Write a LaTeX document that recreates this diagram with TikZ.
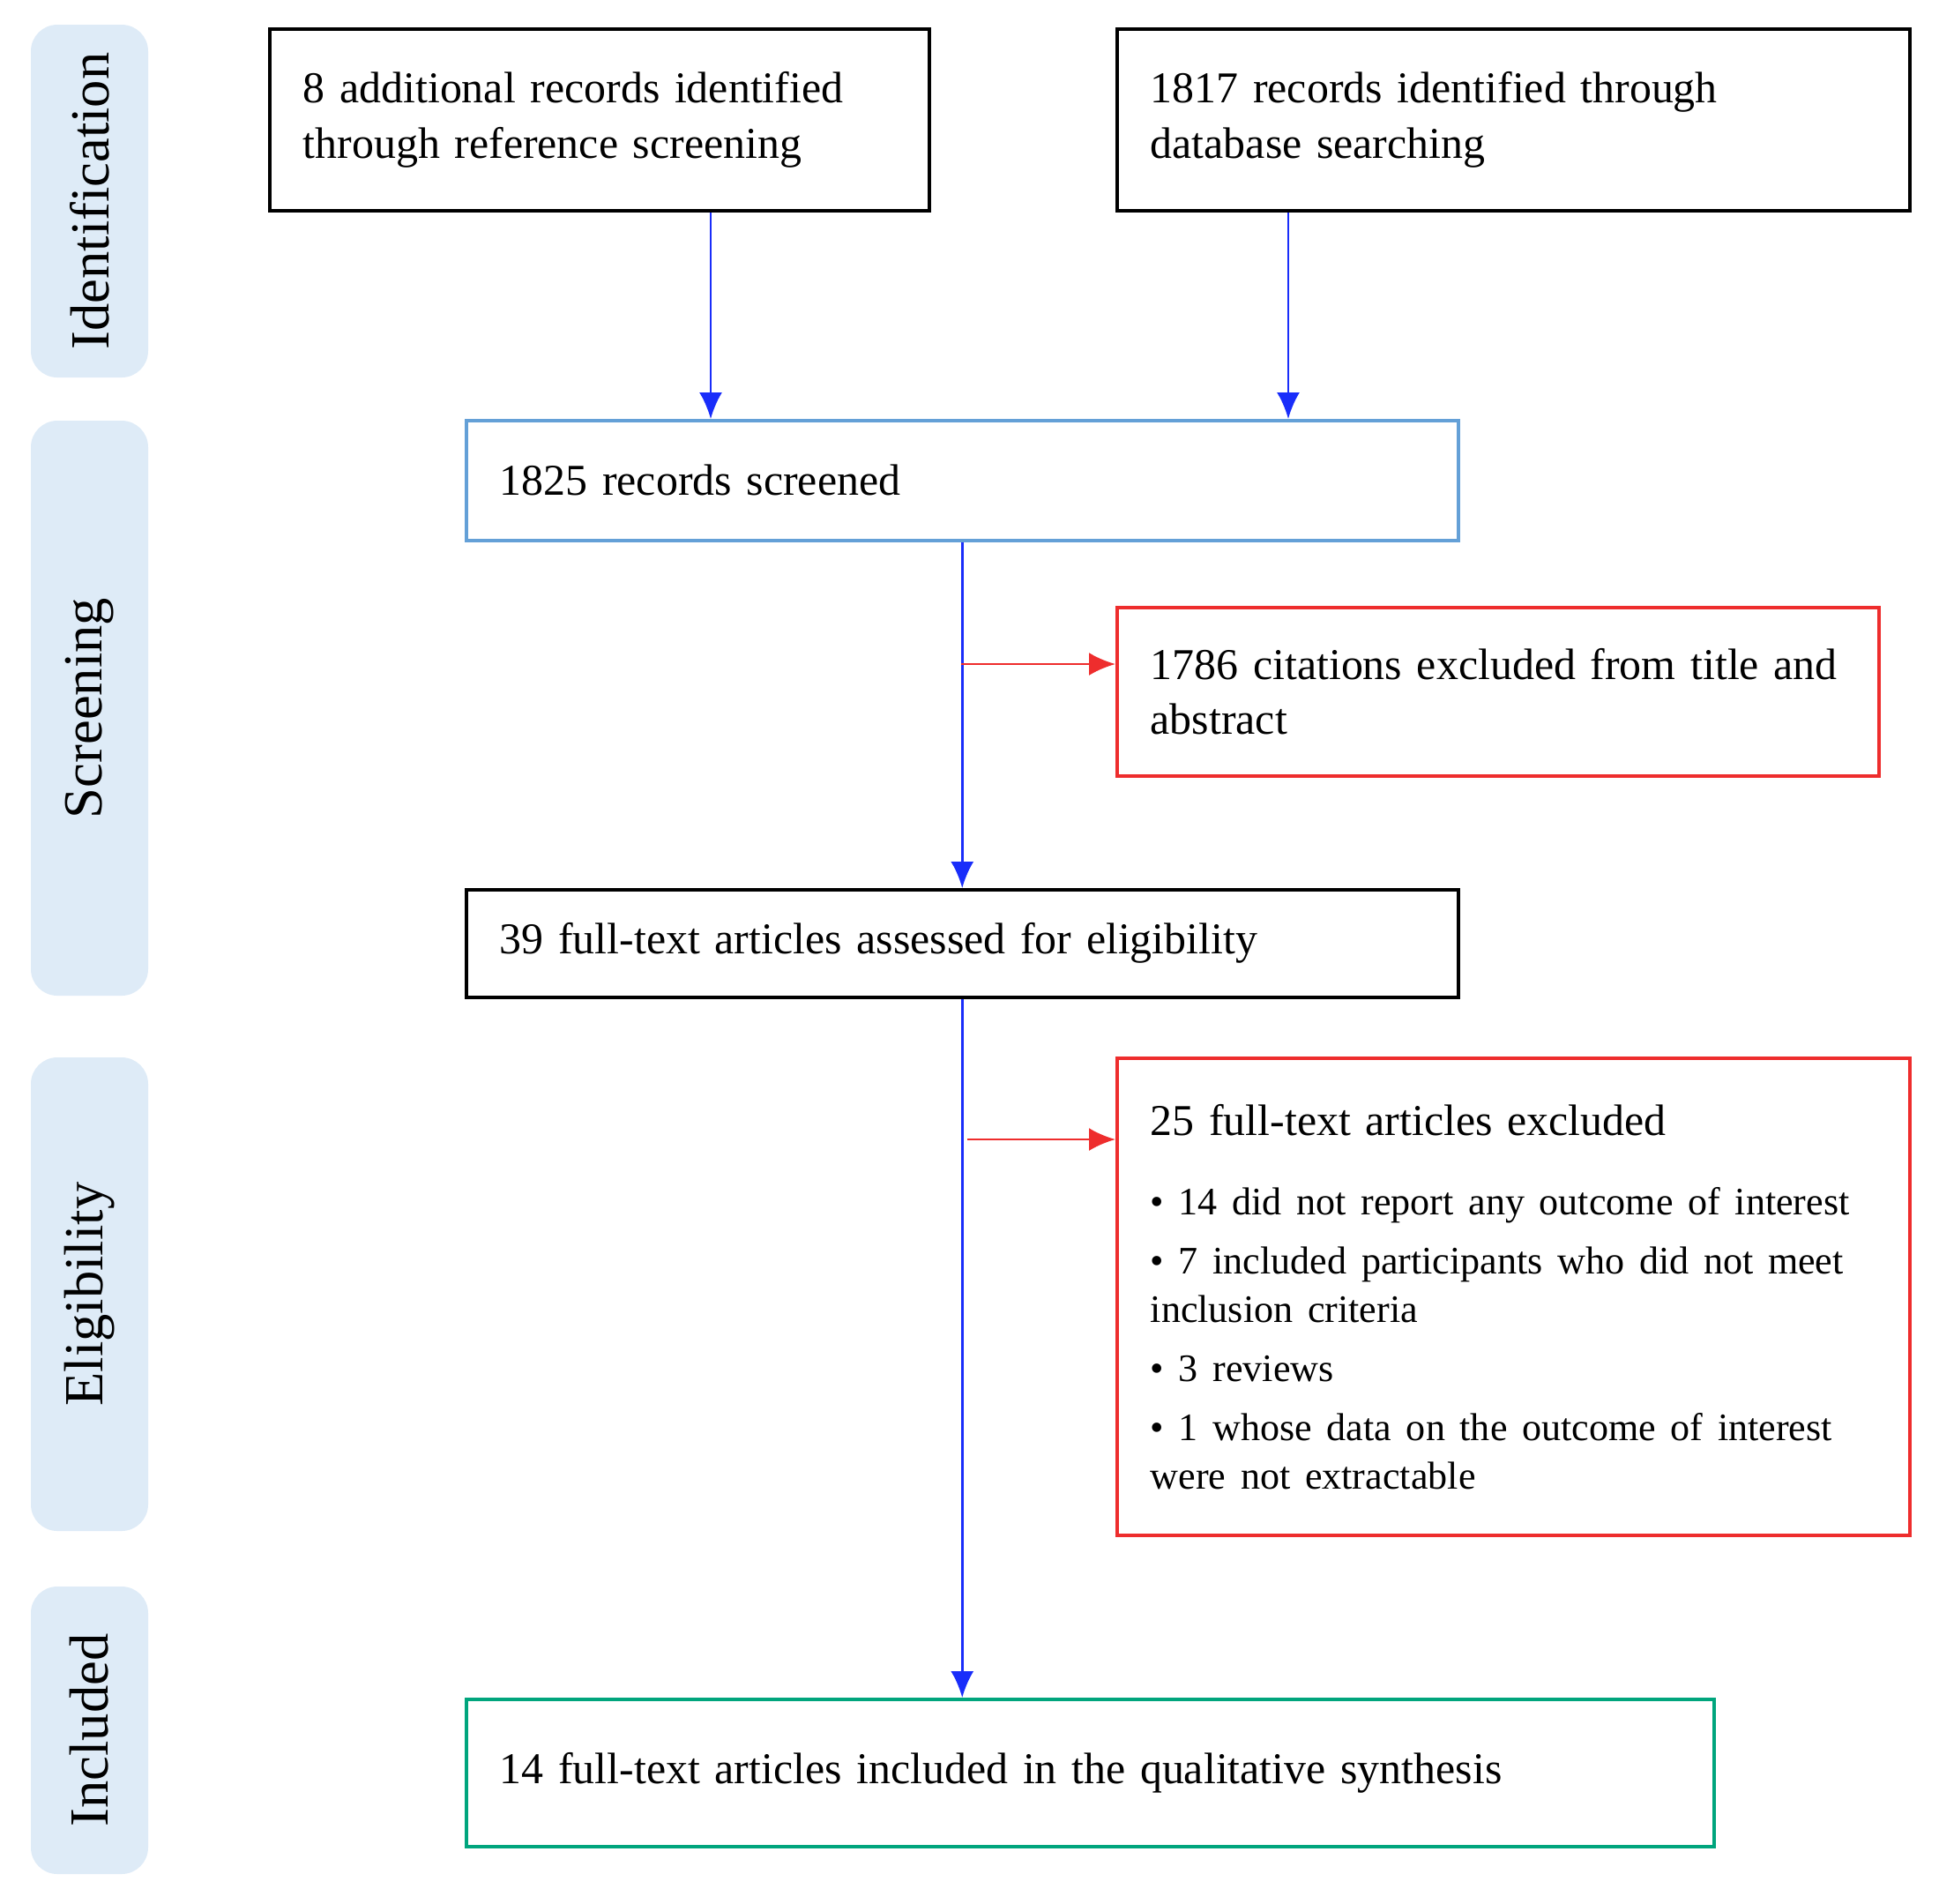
\documentclass[tikz,border=0pt]{standalone}
\usepackage{fontspec}
\setmainfont{Liberation Serif}
\usetikzlibrary{arrows.meta}

\definecolor{flowblue}{RGB}{25,45,250}
\definecolor{dropred}{RGB}{238,45,45}
\definecolor{screenblue}{RGB}{100,160,215}
\definecolor{keepgreen}{RGB}{0,165,125}
\definecolor{phasefill}{RGB}{222,235,247}

\tikzset{
  record/.style={draw, line width=1pt, anchor=north west, align=left,
    inner xsep=0.38cm, font=\fontsize{14.2}{17.8}\selectfont},
  phase/.style={fill=phasefill, rounded corners=0.3cm, rotate=90,
    minimum height=1.33cm, font=\fontsize{17.8}{20}\selectfont},
  flow/.style={draw=flowblue, line width=0.8pt, -{Latex[length=3mm,width=2.6mm]}},
  drop/.style={draw=dropred, line width=0.8pt, -{Latex[length=3mm,width=2.6mm]}}
}

\begin{document}
\begin{tikzpicture}
  \useasboundingbox (0,0) rectangle (21.99,-21.58);

  \node[phase, minimum width=4.00cm] (ident) at (1.015,-2.28) {Identification};
  \node[phase, minimum width=6.52cm] (screen) at (1.015,-8.03) {Screening};
  \node[phase, minimum width=5.37cm] (elig) at (1.015,-14.675) {Eligibility};
  \node[phase, minimum width=3.26cm] (incl) at (1.015,-19.62) {Included};

  \node[record, text width=6.72cm, minimum height=2.06cm] (refs) at (3.04,-0.31)
    {8 additional records identified\\through reference screening};
  \node[record, text width=8.23cm, minimum height=2.06cm] (dbase) at (12.65,-0.31)
    {1817 records identified through\\database searching};
  \node[record, draw=screenblue, text width=10.49cm, minimum height=1.36cm] (screened) at (5.27,-4.75)
    {1825 records screened};
  \node[record, draw=dropred, text width=7.88cm, minimum height=1.91cm] (title) at (12.65,-6.87)
    {1786 citations excluded from title and\\abstract};
  \node[record, text width=10.49cm, minimum height=1.22cm] (fulltext) at (5.27,-10.07)
    {39 full-text articles assessed for eligibility};
  \node[record, draw=dropred, text width=8.23cm, minimum height=5.41cm,
    font=\fontsize{14.2}{15.6}\selectfont] (reasons) at (12.65,-11.98)
    {25 full-text articles excluded\\[0.36cm]
     \fontsize{12.55}{15.6}\selectfont
     \textbullet{} 14 did not report any outcome of interest\\[0.12cm]
     \textbullet{} 7 included participants who did not meet\\inclusion criteria\\[0.12cm]
     \textbullet{} 3 reviews\\[0.12cm]
     \textbullet{} 1 whose data on the outcome of interest\\were not extractable};
  \node[record, draw=keepgreen, text width=13.39cm, minimum height=1.67cm] (synth) at (5.27,-19.25)
    {14 full-text articles included in the qualitative synthesis};

  \coordinate (colA) at (8.06,0);
  \coordinate (colB) at (14.61,0);
  \coordinate (split1) at (10.90,-7.53);
  \coordinate (split2) at (10.97,-12.92);

  \draw[flow] (refs.south -| colA) -- (screened.north -| colA);
  \draw[flow] (dbase.south -| colB) -- (screened.north -| colB);
  \draw[flow] (screened.south) -- (fulltext.north);
  \draw[flow] (fulltext.south) -- (fulltext.south |- synth.north);
  \draw[drop] (split1) -- (split1 -| title.west);
  \draw[drop] (split2) -- (split2 -| reasons.west);
\end{tikzpicture}
\end{document}
